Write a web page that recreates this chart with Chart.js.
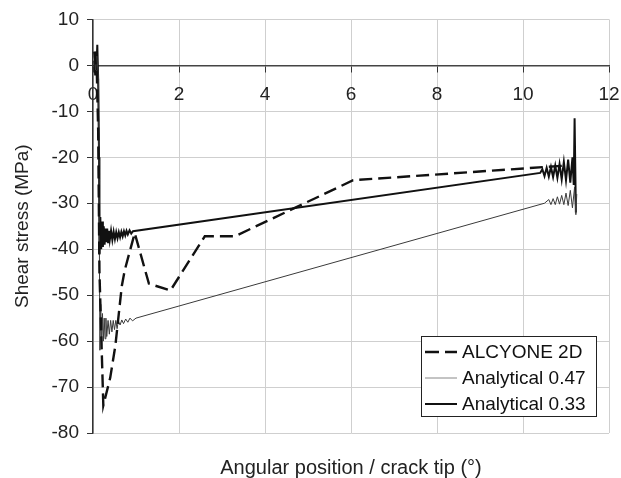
<!DOCTYPE html>
<html>
<head>
<meta charset="utf-8">
<script src="https://cdn.jsdelivr.net/npm/chart.js@4.4.0/dist/chart.umd.min.js"></script>
<style>
  html, body { margin: 0; padding: 0; background: #fff; }
</style>
</head>
<body>
<canvas id="shearChart" width="621" height="478"></canvas>
<script>
// angular position (deg) / shear stress (MPa)
const alcX = [0.03, 0.09, 0.12, 0.15, 0.19, 0.24, 0.40, 0.52, 0.67, 0.74, 0.97, 1.30, 1.80, 2.60, 3.30, 6.05, 11.0];
const alcY = [3, -2, -14, -45, -58, -74, -68, -61, -48, -44.5, -36.5, -47.5, -49, -37.2, -37.2, -25, -21.8];

const a47X = [0.03, 0.06, 0.09, 0.13, 0.16, 0.18, 0.20, 0.22, 0.24, 0.26, 0.28, 0.30, 0.32, 0.35, 0.38, 0.41, 0.44, 0.47, 0.50, 0.53, 0.56, 0.59,
  0.63, 0.67, 0.71, 0.76, 0.81, 0.86, 0.92, 1.0,
  10.5, 10.6, 10.65, 10.7, 10.75, 10.8, 10.85, 10.9, 10.95, 11.0, 11.05, 11.1, 11.15, 11.2, 11.23, 11.25];
const a47Y = [2, -1, 2, -3, -62, -52, -61, -54, -60, -55, -59.5, -55, -59, -55.5, -58.5, -55.5, -58, -55.5, -57.5, -55.5, -57.3, -55.6,
  -56.5, -55.4, -56.2, -55.2, -55.9, -55.0, -55.6, -55,
  -30, -29.2, -30.3, -29, -30.3, -28.6, -30.2, -28.3, -30.3, -27.8, -30.5, -27.2, -31, -26.5, -32.5, -28];

const a33X = [0.03, 0.05, 0.06, 0.08, 0.10, 0.12, 0.14, 0.15, 0.17, 0.19, 0.21, 0.23, 0.25, 0.27, 0.29, 0.31, 0.33, 0.35, 0.37, 0.39,
  0.42, 0.45, 0.48, 0.51, 0.54, 0.57, 0.60, 0.63, 0.66, 0.69, 0.72, 0.75, 0.78, 0.81, 0.85, 0.89, 0.93,
  10.4, 10.45, 10.5, 10.55, 10.6, 10.65, 10.7, 10.75, 10.8, 10.85, 10.9, 10.95, 11.0, 11.05, 11.1, 11.15, 11.18, 11.2, 11.23];
const a33Y = [1, -2, 3, -1, 4.5, -3, -20, -41, -33, -40, -34, -39.5, -35, -39, -35.5, -38.5, -35.5, -38.5, -36, -38,
  -36, -38, -36.2, -37.8, -36.3, -37.6, -36.3, -37.4, -36.2, -37.2, -36.1, -37, -36, -36.8, -35.9, -36.6, -36.1,
  -23.4, -22.6, -24.1, -22.3, -24.2, -22.1, -24.3, -21.8, -24.5, -21.5, -24.8, -21, -25, -20.5, -25.5, -20, -26, -11.5, -32];

const FONT = "'Liberation Sans', Arial, sans-serif";
const pts = (xs, ys) => xs.map((x, i) => ({ x, y: ys[i] }));

const boxLegend = {
  id: 'boxLegend',
  afterDraw(chart) {
    const { ctx, chartArea } = chart;
    const w = 175, h = 80;
    const bx = chartArea.right - 13 - w;
    const by = chartArea.bottom - 17 - h;
    ctx.save();
    ctx.fillStyle = '#fff';
    ctx.fillRect(bx, by, w, h);
    ctx.strokeStyle = '#222';
    ctx.lineWidth = 1;
    ctx.strokeRect(bx + 0.5, by + 0.5, w, h);
    ctx.font = '19px ' + FONT;
    ctx.textBaseline = 'middle';
    ctx.fillStyle = '#111';
    chart.data.datasets.forEach((ds, i) => {
      const cy = by + 16 + i * 26;
      ctx.beginPath();
      ctx.strokeStyle = ds.legendColor || ds.borderColor;
      ctx.lineWidth = ds.borderWidth;
      ctx.setLineDash(ds.legendDash || ds.borderDash || []);
      ctx.moveTo(bx + 4, cy);
      ctx.lineTo(bx + 36, cy);
      ctx.stroke();
      ctx.setLineDash([]);
      ctx.fillText(ds.label, bx + 41, cy + 1);
    });
    ctx.restore();
  }
};

const noSidePad = (s) => { s.paddingLeft = 0; s.paddingRight = 0; };

new Chart(document.getElementById('shearChart'), {
  type: 'line',
  data: {
    datasets: [
      { label: 'ALCYONE 2D', data: pts(alcX, alcY), borderColor: '#111', borderWidth: 2.4, borderDash: [13, 6], legendDash: [14, 6] },
      { label: 'Analytical 0.47', data: pts(a47X, a47Y), borderColor: '#3a3a3a', legendColor: '#888', borderWidth: 1 },
      { label: 'Analytical 0.33', data: pts(a33X, a33Y), borderColor: '#111', borderWidth: 2 }
    ]
  },
  options: {
    responsive: false,
    animation: false,
    devicePixelRatio: 1,
    layout: { padding: { top: 19, right: 12, left: 0, bottom: 0 } },
    elements: { point: { radius: 0 }, line: { tension: 0 } },
    plugins: { legend: { display: false }, tooltip: { enabled: false } },
    scales: {
      x: {
        type: 'linear', min: 0, max: 12,
        position: { y: 0 },
        ticks: { stepSize: 2, padding: 12, color: '#222', font: { family: FONT, size: 19 } },
        grid: { color: '#cfcfcf', tickColor: '#333', tickLength: 6, z: -1 },
        border: { color: '#444', width: 1.5 },
        afterFit: noSidePad
      },
      xTitle: {
        type: 'linear', axis: 'x', position: 'bottom', min: 0, max: 12,
        ticks: { display: false },
        grid: { display: false },
        border: { display: false },
        title: { display: true, text: 'Angular position / crack tip (°)', color: '#222',
                 font: { family: FONT, size: 20, lineHeight: 1 }, padding: 0 },
        afterFit: (s) => { s.height = 45; noSidePad(s); }
      },
      y: {
        type: 'linear', min: -80, max: 10,
        ticks: { stepSize: 10, padding: 8, color: '#222', font: { family: FONT, size: 19 } },
        grid: { color: '#cfcfcf', tickColor: '#333', tickLength: 6, z: -1 },
        border: { color: '#333', width: 1.5 },
        title: { display: true, text: 'Shear stress (MPa)', color: '#222',
                 font: { family: FONT, size: 19, lineHeight: 1 }, padding: { top: 13, bottom: 0 } },
        afterFit: (s) => { s.width = 93; }
      }
    }
  },
  plugins: [boxLegend]
});
</script>
</body>
</html>
